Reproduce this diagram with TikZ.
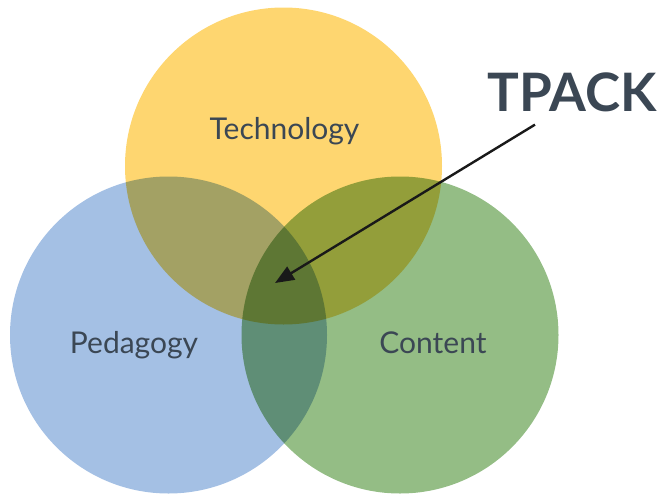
\documentclass[tikz,border=0pt]{standalone}
\usepackage{fontspec}
\setmainfont{Lato}
\usepackage{xcolor}
\usepackage{tikz}
\usetikzlibrary{arrows.meta,calc,positioning}
\definecolor{techyellow}{RGB}{254,214,112}
\definecolor{pedblue}{RGB}{164,192,228}
\definecolor{contgreen}{RGB}{148,189,133}
\definecolor{labelslate}{RGB}{59,71,84}
\tikzset{
	>={Triangle[length=19pt,width=15pt]},
	pointer/.style={arrows=->, black!90, line width=2.4pt},
}
\tikzstyle{kcircle} = [circle, minimum size=317pt, inner sep=0pt, draw=none]
\tikzstyle{klabel} = [anchor=base, text=labelslate, font=\fontsize{30}{30}\selectfont, inner sep=0pt]

\begin{document}
\begin{tikzpicture}[x=1pt,y=-1pt]
	\useasboundingbox (0,0) rectangle (664,493);
	
	\begin{scope}[blend group=multiply]
	\node[kcircle, fill=techyellow] (tech) at (283.5,166) {};
	\node[kcircle, fill=pedblue] (ped) at (168.5,335) {};
	\node[kcircle, fill=contgreen] (cont) at (400,335) {};
	\end{scope}
	
	\node[klabel] (techl) at (284.5,139) {Technology};
	\node[klabel] (pedl) at (134,353) {Pedagogy};
	\node[klabel] (contl) at (433,353) {Content};
	
	\node[klabel, font=\fontsize{53}{53}\selectfont\bfseries] (tpack) at (572,111) {TPACK};
	\coordinate (core) at (275,283);
	\path ($(tpack.south)+(-37,13)$) edge [pointer] (core);
\end{tikzpicture}
\end{document}
